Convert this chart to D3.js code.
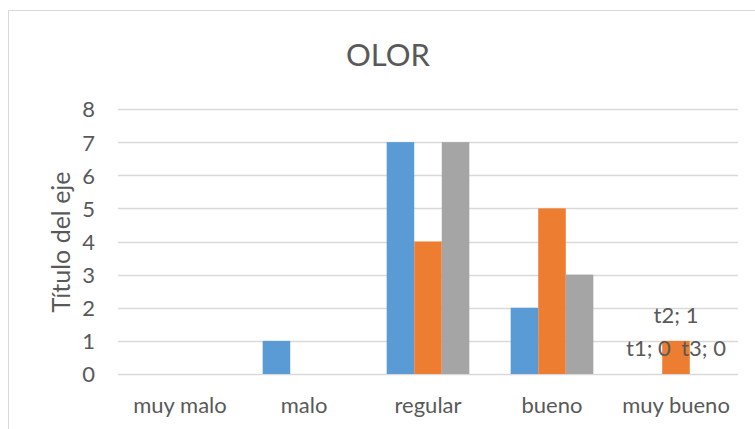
<!DOCTYPE html>
<html>
<head>
<meta charset="utf-8">
<script src="https://cdn.jsdelivr.net/npm/d3@7"></script>
<style>
  html, body { margin: 0; padding: 0; background: #fff; }
  svg { display: block; }
  text { font-family: Lato, "Open Sans", sans-serif; fill: #595959; }
</style>
</head>
<body>
<svg id="chart" width="755" height="429"></svg>
<script>
const categories = ["muy malo", "malo", "regular", "bueno", "muy bueno"];
const seriesNames = ["t1", "t2", "t3"];
const t1 = [0, 1, 7, 2, 0];
const t2 = [0, 0, 4, 5, 1];
const t3 = [0, 0, 7, 3, 0];
const yTicks = [0, 1, 2, 3, 4, 5, 6, 7, 8];
const colors = ["#5B9BD5", "#ED7D31", "#A5A5A5"];
const labeledCategory = "muy bueno";
const chartTitle = "OLOR";
const yTitle = "Título del eje";

const seriesValues = [t1, t2, t3];
const data = categories.map((c, i) => ({
  cat: c,
  vals: seriesNames.map((s, k) => ({ s, k, v: seriesValues[k][i] }))
}));

const svg = d3.select("#chart");

// chart area border
svg.append("rect")
  .attr("x", 8.5).attr("y", 10.5)
  .attr("width", 800).attr("height", 500)
  .attr("fill", "#fff").attr("stroke", "#d9d9d9").attr("stroke-width", 1);

const x = d3.scaleBand().domain(categories).range([118, 738]).padding(0);
const xs = d3.scaleBand().domain(seriesNames).range([0, x.bandwidth()])
  .paddingInner(0).paddingOuter(0.75);
const y = d3.scaleLinear().domain([0, 8]).range([374, 109]);

// gridlines
svg.append("g").selectAll("line").data(yTicks).join("line")
  .attr("x1", 118).attr("x2", 738)
  .attr("y1", d => Math.round(y(d)) + 0.5).attr("y2", d => Math.round(y(d)) + 0.5)
  .attr("stroke", "#d9d9d9").attr("stroke-width", 1.3);

// y tick labels
const yAxis = d3.axisLeft(y).tickValues(yTicks).tickSize(0).tickPadding(0);
const gy = svg.append("g").attr("transform", "translate(95,0)").call(yAxis);
gy.select(".domain").remove();
gy.selectAll("text")
  .attr("font-size", "22px").attr("fill", "#595959")
  .attr("font-family", "Lato, sans-serif")
  .attr("dy", "0.36em");

// bars
const groups = svg.append("g").selectAll("g").data(data).join("g")
  .attr("transform", d => `translate(${x(d.cat)},0)`);
groups.selectAll("rect").data(d => d.vals).join("rect")
  .attr("x", d => xs(d.s))
  .attr("width", xs.bandwidth())
  .attr("y", d => y(d.v))
  .attr("height", d => y(0) - y(d.v))
  .attr("fill", d => colors[d.k]);

// data labels for the last category
groups.filter(d => d.cat === labeledCategory)
  .selectAll("text.lbl").data(d => d.vals).join("text")
  .attr("class", "lbl")
  .attr("x", d => xs(d.s) + xs.bandwidth() / 2)
  .attr("y", d => y(d.v) - 18)
  .attr("text-anchor", "middle")
  .attr("font-size", "22px")
  .text(d => `${d.s}; ${d.v}`);

// x axis labels
const xAxis = d3.axisBottom(x).tickSize(0).tickPadding(0);
const gx = svg.append("g").attr("transform", "translate(0,413)").call(xAxis);
gx.select(".domain").remove();
gx.selectAll("text")
  .attr("font-size", "22px").attr("fill", "#595959")
  .attr("font-family", "Lato, sans-serif")
  .attr("dy", 0).attr("y", 0);

// title
svg.append("text")
  .attr("x", 388).attr("y", 66)
  .attr("text-anchor", "middle")
  .attr("font-size", "31px")
  .text(chartTitle);

// y axis title
svg.append("text")
  .attr("transform", "translate(70,242) rotate(-90)")
  .attr("text-anchor", "middle")
  .attr("font-size", "25px")
  .text(yTitle);
</script>
</body>
</html>
